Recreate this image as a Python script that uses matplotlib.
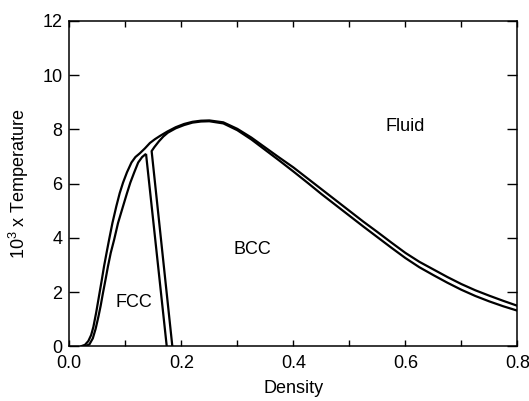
import matplotlib
matplotlib.use("Agg")
import matplotlib.pyplot as plt
from matplotlib.ticker import MultipleLocator, FixedFormatter, FixedLocator

# --------------------------
# Phase boundaries
# --------------------------
# outer boundary: fluid / FCC on the left, fluid / BCC on the right (upper line)
outer_density = [0.02, 0.028, 0.034, 0.039, 0.043, 0.048, 0.053, 0.058, 0.062,
                 0.067, 0.071, 0.077, 0.084, 0.09, 0.096, 0.103, 0.111, 0.118,
                 0.126, 0.135, 0.144, 0.153, 0.162, 0.175, 0.19, 0.205, 0.22,
                 0.235, 0.25, 0.275, 0.30, 0.325, 0.35, 0.375, 0.40, 0.425,
                 0.45, 0.475, 0.50, 0.525, 0.55, 0.575, 0.60, 0.625, 0.65,
                 0.675, 0.70, 0.725, 0.75, 0.775, 0.80]
outer_temp = [0.0, 0.06, 0.2, 0.42, 0.72, 1.25, 1.85, 2.45, 2.95,
              3.5, 3.93, 4.55, 5.17, 5.65, 6.04, 6.42, 6.78, 6.98,
              7.12, 7.3, 7.5, 7.64, 7.76, 7.92, 8.08, 8.2, 8.28,
              8.32, 8.33, 8.26, 8.02, 7.7, 7.33, 6.96, 6.6, 6.2,
              5.8, 5.4, 5.0, 4.6, 4.22, 3.83, 3.45, 3.12, 2.84,
              2.56, 2.3, 2.07, 1.87, 1.68, 1.5]

# inner line of the fluid / FCC coexistence band
fcc_inner_density = [0.028, 0.036, 0.042, 0.047, 0.052, 0.056, 0.06, 0.065, 0.069,
                     0.074, 0.08, 0.087, 0.096, 0.103, 0.109, 0.116, 0.123, 0.13, 0.137]
fcc_inner_temp = [0.0, 0.08, 0.3, 0.65, 1.1, 1.5, 1.96, 2.5, 2.95,
                  3.45, 3.93, 4.55, 5.17, 5.65, 6.04, 6.42, 6.78, 6.98, 7.1]

# FCC / BCC band, left line
fcc_bcc_density = [0.137, 0.174]
fcc_bcc_temp = [7.1, 0.0]

# FCC / BCC band, right line, continuing as the lower fluid / BCC line
bcc_density = [0.184, 0.147, 0.152, 0.16, 0.168, 0.176, 0.19, 0.205, 0.22,
               0.235, 0.25, 0.275, 0.30, 0.325, 0.35, 0.375, 0.40, 0.425,
               0.45, 0.475, 0.50, 0.525, 0.55, 0.575, 0.60, 0.625, 0.65,
               0.675, 0.70, 0.725, 0.75, 0.775, 0.80]
bcc_temp = [0.0, 7.2, 7.35, 7.56, 7.74, 7.88, 8.04, 8.16, 8.25,
            8.29, 8.3, 8.22, 7.97, 7.63, 7.24, 6.85, 6.45, 6.04,
            5.62, 5.22, 4.82, 4.42, 4.03, 3.64, 3.26, 2.92, 2.63,
            2.35, 2.09, 1.86, 1.66, 1.48, 1.32]

phase_labels = ["FCC", "BCC", "Fluid"]
label_density = [0.115, 0.326, 0.60]
label_temp = [1.62, 3.58, 8.12]

plt.rcParams['font.family'] = ['Liberation Sans', 'DejaVu Sans']
plt.rcParams['mathtext.default'] = 'regular'

fig = plt.figure(figsize=(5.29, 4.01), dpi=100)
ax = fig.add_axes([0.131, 0.136, 0.847, 0.812])

for d, t in [(outer_density, outer_temp), (fcc_inner_density, fcc_inner_temp),
             (fcc_bcc_density, fcc_bcc_temp), (bcc_density, bcc_temp)]:
    ax.plot(d, t, color='black', linewidth=1.6, solid_joinstyle='round',
            solid_capstyle='butt')

for name, d, t in zip(phase_labels, label_density, label_temp):
    ax.text(d, t, name, fontsize=13, ha='center', va='center')

ax.set_xlim(0, 0.8)
ax.set_ylim(0, 12)
ax.xaxis.set_major_locator(FixedLocator([0, 0.1, 0.2, 0.3, 0.4, 0.5, 0.6, 0.7, 0.8]))
ax.xaxis.set_major_formatter(FixedFormatter(["0.0", "", "0.2", "", "0.4", "", "0.6", "", "0.8"]))
ax.yaxis.set_major_locator(MultipleLocator(2))

ax.tick_params(axis='both', direction='in', top=True, right=True, labelsize=13, width=1.0)
ax.tick_params(axis='x', length=4, pad=6)
ax.tick_params(axis='y', length=7, pad=5)
for s in ax.spines.values():
    s.set_linewidth(1.1)

ax.set_xlabel('Density', fontsize=13, labelpad=6)
ax.set_ylabel('10$^3$ x Temperature', fontsize=13, labelpad=8)

fig.savefig('out.png', dpi=100)
